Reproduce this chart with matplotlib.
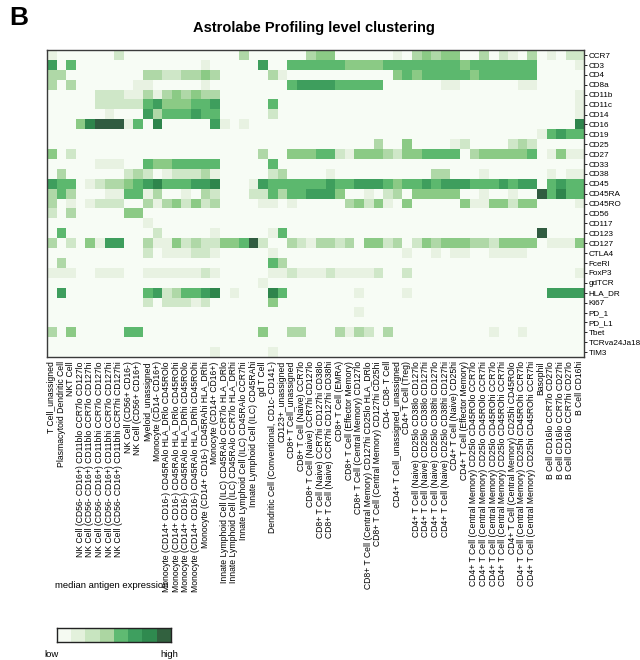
import numpy as np
import matplotlib.pyplot as plt
from matplotlib.colors import LinearSegmentedColormap

plt.rcParams['font.family'] = ['Liberation Sans', 'DejaVu Sans']

# heatmap rows (markers) and columns (clusters)
markers = ['CCR7', 'CD3', 'CD4', 'CD8a', 'CD11b', 'CD11c', 'CD14', 'CD16', 'CD19', 'CD25',
           'CD27', 'CD33', 'CD38', 'CD45', 'CD45RA', 'CD45RO', 'CD56', 'CD117', 'CD123',
           'CD127', 'CTLA4', 'FceRI', 'FoxP3', 'gdTCR', 'HLA_DR', 'Ki67', 'PD_1', 'PD_L1',
           'Tbet', 'TCRva24Ja18', 'TIM3']

clusters = [
    'T Cell_unassigned',
    'Plasmacytoid Dendritic Cell',
    'NKT Cell',
    'NK Cell (CD56- CD16+) CD11blo CCR7lo CD127lo',
    'NK Cell (CD56- CD16+) CD11blo CCR7lo CD127hi',
    'NK Cell (CD56- CD16+) CD11bhi CCR7lo CD127lo',
    'NK Cell (CD56- CD16+) CD11bhi CCR7lo CD127hi',
    'NK Cell (CD56- CD16+) CD11bhi CCR7hi CD127hi',
    'NK Cell (CD56+ CD16-)',
    'NK Cell (CD56+ CD16+)',
    'Myeloid_unassigned',
    'Monocyte (CD14- CD16+)',
    'Monocyte (CD14+ CD16-) CD45RAlo HLA_DRlo CD45ROlo',
    'Monocyte (CD14+ CD16-) CD45RAlo HLA_DRlo CD45ROhi',
    'Monocyte (CD14+ CD16-) CD45RAlo HLA_DRhi CD45ROlo',
    'Monocyte (CD14+ CD16-) CD45RAlo HLA_DRhi CD45ROhi',
    'Monocyte (CD14+ CD16-) CD45RAhi HLA_DRhi',
    'Monocyte (CD14+ CD16+)',
    'Innate Lymphoid Cell (ILC) CD45RAlo CCR7lo HLA_DRlo',
    'Innate Lymphoid Cell (ILC) CD45RAlo CCR7lo HLA_DRhi',
    'Innate Lymphoid Cell (ILC) CD45RAlo CCR7hi',
    'Innate Lymphoid Cell (ILC) CD45RAhi',
    'gd T Cell',
    'Dendritic Cell (Conventional, CD1c- CD141-)',
    'CD123+_unassigned',
    'CD8+ T Cell_unassigned',
    'CD8+ T Cell (Naive) CCR7lo',
    'CD8+ T Cell (Naive) CCR7hi CD127lo',
    'CD8+ T Cell (Naive) CCR7hi CD127hi CD38lo',
    'CD8+ T Cell (Naive) CCR7hi CD127hi CD38hi',
    'CD8+ T Cell (EMRA)',
    'CD8+ T Cell (Effector Memory)',
    'CD8+ T Cell (Central Memory) CD127lo',
    'CD8+ T Cell (Central Memory) CD127hi CD25lo HLA_DRlo',
    'CD8+ T Cell (Central Memory) CD127hi CD25hi',
    'CD4- CD8- T Cell',
    'CD4+ T Cell_unassigned_unassigned',
    'CD4+ T Cell (Treg)',
    'CD4+ T Cell (Naive) CD25lo CD38lo CD127lo',
    'CD4+ T Cell (Naive) CD25lo CD38lo CD127hi',
    'CD4+ T Cell (Naive) CD25lo CD38hi CD127lo',
    'CD4+ T Cell (Naive) CD25lo CD38hi CD127hi',
    'CD4+ T Cell (Naive) CD25hi',
    'CD4+ T Cell (Effector Memory)',
    'CD4+ T Cell (Central Memory) CD25lo CD45ROlo CCR7lo',
    'CD4+ T Cell (Central Memory) CD25lo CD45ROlo CCR7hi',
    'CD4+ T Cell (Central Memory) CD25lo CD45ROhi CCR7lo',
    'CD4+ T Cell (Central Memory) CD25lo CD45ROhi CCR7hi',
    'CD4+ T Cell (Central Memory) CD25hi CD45ROlo',
    'CD4+ T Cell (Central Memory) CD25hi CD45ROhi CCR7lo',
    'CD4+ T Cell (Central Memory) CD25hi CD45ROhi CCR7hi',
    'Basophil',
    'B Cell CD16lo CCR7lo CD27lo',
    'B Cell CD16lo CCR7lo CD27hi',
    'B Cell CD16lo CCR7hi CD27lo',
    'B Cell CD16hi',
]

# median expression, binned 0 (low) .. 8 (high), one row per marker
expression = [
    [1,0,0,0,0,0,0,2,0,0, 0,0,0,0,0,0,0,0,0,0, 3,0,0,0,0,0,0,3,4,4, 0,0,0,0,0,0,1,0,3,4, 3,4,4,0,0,3,0,2,1,0, 3,0,1,0,2,2],  # CCR7
    [6,0,5,0,0,0,0,0,0,0, 0,0,0,0,0,0,1,0,0,0, 0,0,6,0,0,5,5,5,5,5, 5,4,4,4,4,5,5,5,5,5, 5,5,5,4,5,5,5,5,5,5, 5,0,0,0,0,1],  # CD3
    [3,3,0,0,0,0,0,0,0,0, 3,3,2,2,3,3,4,3,0,0, 0,0,0,3,1,0,0,0,0,0, 0,0,0,0,0,0,4,5,4,5, 5,5,5,5,4,5,5,5,5,5, 5,0,0,0,0,0],  # CD4
    [3,0,3,0,0,0,0,0,0,1, 1,0,0,0,0,0,1,0,0,0, 0,0,0,0,0,5,6,6,6,6, 5,5,5,5,5,0,0,0,0,0, 0,1,1,0,0,0,0,0,0,1, 1,0,0,0,0,0],  # CD8a
    [0,0,0,0,0,2,2,2,1,1, 3,1,3,4,3,4,3,3,0,0, 0,0,0,0,0,0,0,0,0,0, 0,0,0,0,0,0,0,0,0,0, 0,0,0,0,0,0,0,0,0,0, 0,0,0,0,0,1],  # CD11b
    [0,0,0,0,0,2,2,2,2,2, 5,6,4,4,4,5,5,6,0,0, 0,0,0,5,0,0,0,0,0,0, 0,0,0,0,0,0,0,0,0,0, 0,0,0,0,0,0,0,0,0,0, 0,0,0,0,0,1],  # CD11c
    [0,0,0,0,0,0,1,0,0,0, 6,3,5,5,5,6,5,5,0,0, 0,0,0,2,0,0,0,0,0,0, 0,0,0,0,0,0,0,0,0,0, 0,0,0,0,0,0,0,0,0,0, 0,0,0,0,0,1],  # CD14
    [0,0,0,4,7,8,8,8,1,5, 0,7,0,0,0,0,0,6,1,0, 1,0,0,0,0,0,0,0,0,0, 0,0,0,0,0,0,0,0,0,0, 0,0,0,0,0,0,0,0,0,0, 0,0,0,0,0,7],  # CD16
    [0,0,0,0,0,0,0,0,0,0, 0,0,0,0,0,0,0,0,0,0, 0,0,0,0,0,0,0,0,0,0, 0,0,0,0,0,0,0,0,0,0, 0,0,0,0,0,0,0,0,0,0, 0,1,5,6,5,5],  # CD19
    [0,0,0,0,0,0,0,0,0,0, 0,0,0,0,0,0,0,0,0,0, 0,0,0,0,0,0,0,0,0,0, 0,0,0,0,3,0,0,4,0,0, 0,0,1,2,0,0,0,0,2,3, 2,0,0,0,0,0],  # CD25
    [4,0,2,0,0,0,0,0,0,0, 0,0,0,0,0,0,0,0,0,0, 0,0,3,0,0,4,4,4,5,5, 2,1,4,4,4,3,2,4,4,5, 5,5,5,0,3,4,4,4,4,4, 5,0,1,4,1,1],  # CD27
    [0,0,0,0,0,1,1,1,0,0, 5,4,4,5,5,5,5,5,0,0, 0,0,0,5,0,0,0,0,0,0, 0,0,0,0,0,0,0,0,0,0, 0,0,0,0,0,0,0,0,0,0, 0,0,0,0,0,0],  # CD33
    [0,3,0,0,0,0,0,0,2,3, 2,0,1,2,2,2,3,1,0,0, 0,0,0,2,3,0,0,0,0,1, 0,0,0,0,0,0,0,0,0,0, 3,3,0,0,0,1,0,0,0,0, 0,0,1,0,1,1],  # CD38
    [6,5,5,0,1,2,3,3,4,5, 6,7,5,5,5,6,6,7,0,0, 0,1,6,5,5,5,5,5,5,6, 5,5,6,6,6,5,4,5,5,6, 5,6,6,6,5,5,5,6,5,6, 6,0,5,6,5,5],  # CD45
    [3,5,3,0,0,0,1,1,5,5, 1,3,0,0,1,0,3,2,0,0, 0,2,2,5,3,5,5,6,6,6, 4,0,0,1,0,2,3,0,4,4, 4,4,4,0,0,1,0,0,1,0, 0,8,5,7,5,5],  # CD45RA
    [3,0,1,0,1,2,2,2,0,0, 3,1,3,4,2,4,2,3,0,0, 0,0,1,1,0,1,0,0,0,0, 0,3,4,2,4,1,0,4,0,0, 0,0,0,4,1,1,4,4,2,4, 4,0,0,0,0,1],  # CD45RO
    [2,0,3,0,0,0,0,0,4,4, 0,0,0,0,0,0,0,0,0,0, 0,0,0,0,0,0,0,0,0,0, 0,0,0,0,0,0,0,0,0,0, 0,0,0,0,0,0,0,0,0,0, 0,0,0,0,0,0],  # CD56
    [0,0,0,0,0,0,0,0,0,0, 1,0,0,0,0,0,0,0,0,0, 0,0,0,0,0,0,0,0,0,0, 0,0,0,0,0,0,0,0,0,0, 0,0,0,0,0,0,0,0,0,0, 0,0,0,0,0,0],  # CD117
    [0,5,0,0,0,0,0,0,0,0, 0,2,0,0,0,0,0,1,0,0, 0,0,0,1,5,0,0,0,0,0, 0,0,0,0,0,0,0,0,0,0, 0,0,0,0,0,0,0,0,0,0, 0,8,0,0,0,0],  # CD123
    [3,0,2,0,4,1,6,6,0,0, 3,1,1,4,2,3,2,2,4,4, 5,8,2,0,0,3,2,1,3,3, 2,3,0,4,4,2,3,0,2,4, 3,4,4,4,3,3,2,4,4,4, 4,0,1,1,1,4],  # CD127
    [0,0,0,0,0,0,0,0,0,0, 2,0,1,1,1,2,2,1,0,0, 0,0,0,1,0,0,0,0,0,0, 0,0,0,0,0,0,0,1,0,0, 1,0,1,1,0,0,1,1,1,1, 0,0,0,0,0,0],  # CTLA4
    [0,3,0,0,0,0,0,0,0,0, 0,0,0,0,0,0,0,0,0,0, 0,0,0,5,3,0,0,0,0,0, 0,0,0,0,0,0,0,0,0,0, 0,0,0,0,0,0,0,0,0,0, 0,0,0,0,0,0],  # FceRI
    [1,1,1,0,0,1,1,1,0,0, 1,1,1,1,1,1,2,1,0,0, 0,0,0,1,1,2,1,1,1,2, 1,1,1,1,2,0,0,2,0,0, 0,0,0,0,0,0,0,0,0,0, 0,0,0,0,0,1],  # FoxP3
    [0,0,0,0,0,0,0,0,0,0, 0,0,0,0,0,0,0,0,0,0, 0,0,1,0,0,0,0,0,0,0, 0,0,0,0,0,0,0,0,0,0, 0,0,0,0,0,0,0,0,0,0, 0,0,0,0,0,0],  # gdTCR
    [0,6,0,0,0,0,0,0,0,0, 5,6,2,3,5,5,6,7,0,1, 0,0,0,7,5,0,0,0,0,0, 0,0,1,0,0,0,0,1,0,0, 0,0,0,0,0,0,0,0,0,0, 0,0,6,6,6,6],  # HLA_DR
    [0,0,0,0,0,0,0,0,0,0, 2,0,2,2,2,1,2,0,0,0, 0,0,0,4,0,0,0,0,0,0, 0,0,0,0,0,0,0,0,0,0, 0,0,0,0,0,0,0,0,0,0, 0,0,0,0,0,0],  # Ki67
    [0,0,0,0,0,0,0,0,0,0, 0,0,0,0,0,0,0,0,0,0, 0,0,0,0,0,0,0,0,0,0, 0,0,1,0,0,0,0,0,0,0, 0,0,0,0,0,0,0,0,0,0, 0,0,0,0,0,0],  # PD_1
    [0,0,0,0,0,0,0,0,0,0, 0,0,0,0,0,0,0,0,0,0, 0,0,0,0,0,0,0,0,0,0, 0,0,0,0,0,0,0,0,0,0, 0,0,0,0,0,0,0,0,0,0, 0,0,0,0,0,0],  # PD_L1
    [3,0,4,0,0,0,0,0,5,5, 0,0,0,0,0,0,0,0,0,0, 0,0,4,0,0,3,3,0,0,0, 3,1,3,2,0,3,0,0,0,0, 0,0,0,0,0,0,1,0,0,1, 0,0,0,0,0,0],  # Tbet
    [0,0,0,0,0,0,0,0,0,0, 0,0,0,0,0,0,0,0,0,0, 0,0,0,0,0,0,0,0,0,0, 0,0,0,0,0,0,0,0,0,0, 0,0,0,0,0,0,0,0,0,0, 0,0,0,0,0,0],  # TCRva24Ja18
    [0,0,0,0,0,0,0,0,0,0, 0,0,0,0,0,0,0,1,0,0, 0,0,0,1,0,0,0,0,0,0, 0,0,0,0,0,0,0,0,0,0, 0,0,0,0,0,0,0,0,0,0, 0,0,0,0,0,0],  # TIM3
]

legend_colors = ['#f5faf2', '#e3f1dc', '#c8e5c0', '#acd6a2', '#5fba72', '#3e9f5f', '#2f8a4f', '#32613f']
cell_colors = ['#f7fcf5', '#e9f3e3', '#d0e8c9', '#b0d9a8', '#8ccb86', '#5db96f', '#3f9f5e', '#2e874d', '#305c40']
cmap = LinearSegmentedColormap.from_list('greens', cell_colors, N=256)

data = np.array(expression)

fig = plt.figure(figsize=(6.4, 6.6), dpi=100)

ax = fig.add_axes([0.073, 0.459, 0.840, 0.465])
ax.imshow(data, cmap=cmap, vmin=0, vmax=8, aspect='auto', interpolation='nearest')

ax.set_yticks(range(len(markers)))
ax.set_yticklabels(markers, fontsize=5.9)
ax.yaxis.tick_right()
ax.set_xticks(range(len(clusters)))
ax.set_xticklabels(clusters, rotation=90, fontsize=6.2)
ax.tick_params(axis='y', length=2.0, width=0.6, pad=1.0)
ax.tick_params(axis='x', length=0, pad=3)
for s in ax.spines.values():
    s.set_color('#3a3a3a')
    s.set_linewidth(1.0)

fig.text(0.49, 0.958, 'Astrolabe Profiling level clustering', ha='center', va='center',
         fontsize=10.5, fontweight='bold')
fig.text(0.015, 0.972, 'B', ha='left', va='center', fontsize=19, fontweight='bold')

# legend
lax = fig.add_axes([0.089, 0.027, 0.178, 0.022])
lax.imshow(np.arange(len(legend_colors)).reshape(1, -1),
           cmap=LinearSegmentedColormap.from_list('leg', legend_colors, N=len(legend_colors)),
           aspect='auto', interpolation='nearest')
lax.set_xticks([])
lax.set_yticks([])
for s in lax.spines.values():
    s.set_color('#222222')
    s.set_linewidth(1.0)
fig.text(0.086, 0.113, 'median antigen expression', ha='left', va='center', fontsize=6.8)
fig.text(0.070, 0.008, 'low', ha='left', va='center', fontsize=6.8)
fig.text(0.278, 0.008, 'high', ha='right', va='center', fontsize=6.8)

fig.savefig('out.png', dpi=100)
